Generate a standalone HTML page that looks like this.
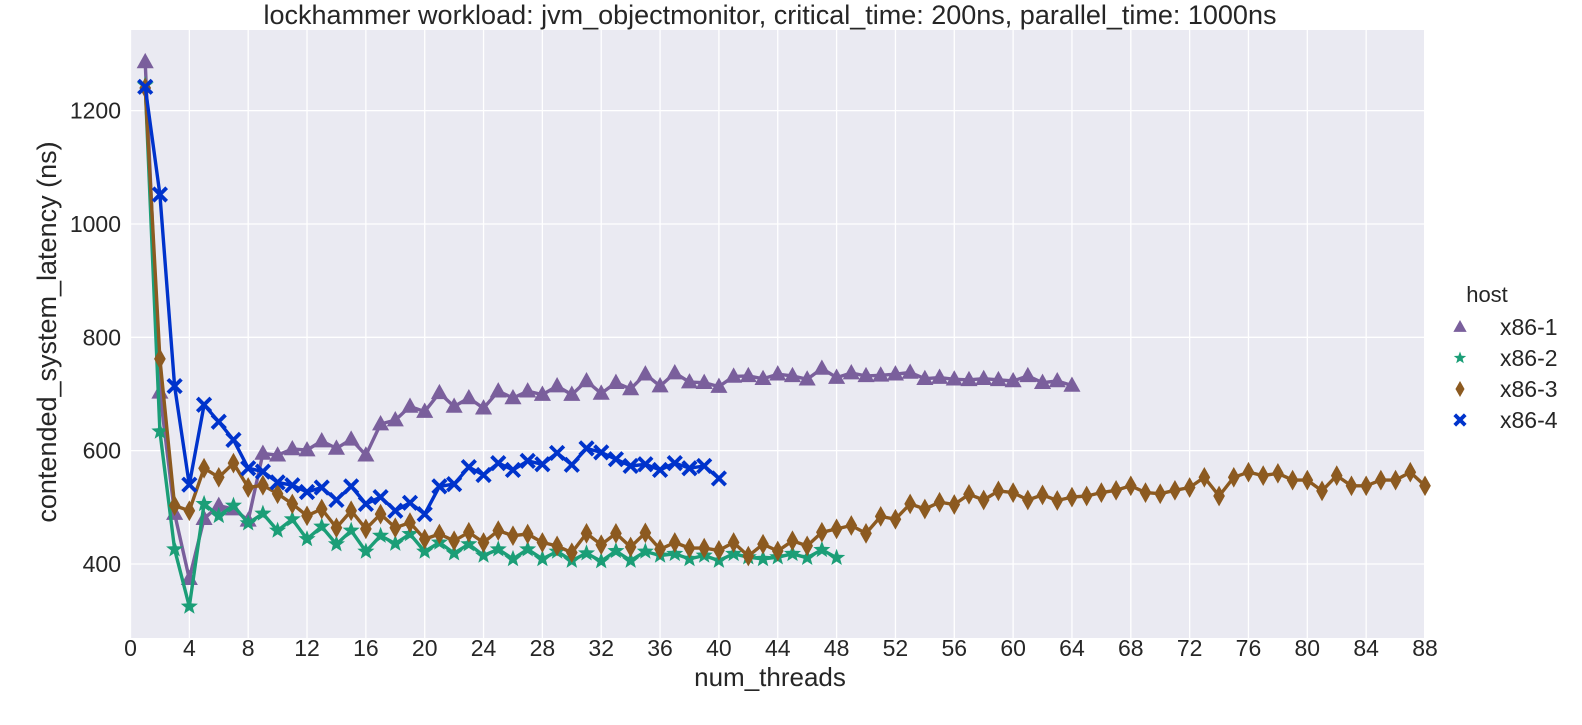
<!DOCTYPE html>
<html><head><meta charset="utf-8">
<style>
body{margin:0;background:#fff;}
svg text{font-family:"Liberation Sans","DejaVu Sans",sans-serif;fill:#262626;}
</style></head>
<body>
<svg id="chart" width="1582" height="720" xmlns="http://www.w3.org/2000/svg">
<rect x="131" y="30" width="1293" height="608" fill="#eaeaf2"/>
<g id="grid"></g>
<g id="series"></g>
<g id="xticks"></g>
<g id="yticks"></g>
<text x="770" y="24" font-size="27" text-anchor="middle">lockhammer workload: jvm_objectmonitor, critical_time: 200ns, parallel_time: 1000ns</text>
<text x="770" y="686" font-size="26" text-anchor="middle">num_threads</text>
<text transform="translate(56,332) rotate(-90)" font-size="27" text-anchor="middle">contended_system_latency (ns)</text>
<g id="legend">
<text x="1487" y="302" font-size="22" text-anchor="middle">host</text>
</g>
</svg>
<script>
const hosts = ["x86-1","x86-2","x86-3","x86-4"];
const colors = ["#7a5f9c","#1b9e77","#8c5a20","#0033cc"];
const s1 = [1286,703,489,374,480,503,497,477,595,592,603,601,617,604,620,592,647,654,678,669,702,678,693,675,705,693,705,699,714,699,723,701,720,709,735,714,737,721,720,713,731,732,727,735,732,726,745,729,737,732,733,735,738,727,729,726,725,727,725,723,732,720,723,715];
const s2 = [1245,634,426,325,506,485,503,472,489,459,479,444,466,435,459,422,450,436,453,422,438,419,435,415,426,409,426,409,422,406,419,405,423,406,422,415,418,409,415,406,418,412,409,412,418,411,425,411];
const s3 = [1240,762,503,494,569,553,578,535,539,524,506,485,497,464,494,462,488,464,473,444,453,441,456,438,459,450,453,438,432,420,454,434,454,430,455,426,438,428,428,424,438,414,435,423,441,432,456,462,468,454,484,479,506,497,509,505,523,513,529,526,513,522,512,518,520,526,530,538,526,524,530,535,553,520,553,562,556,560,548,548,529,556,538,538,548,548,562,538];
const s4 = [1242,1052,714,540,681,651,619,569,563,544,539,527,535,513,537,506,518,494,508,488,537,541,571,557,578,566,582,576,596,575,604,597,585,573,576,566,578,569,573,551];
const xTickLabels = [0,4,8,12,16,20,24,28,32,36,40,44,48,52,56,60,64,68,72,76,80,84,88];
const yTickLabels = [400,600,800,1000,1200];
const seriesList = [s1,s2,s3,s4];

const NS="http://www.w3.org/2000/svg";
const X0=130.5, XPU=(1425-130.5)/88;
const Y400=564, YPU=0.5667;
function xs(v){return X0+v*XPU;}
function ys(v){return Y400-(v-400)*YPU;}
function mk(tag,attrs,parent){const e=document.createElementNS(NS,tag);for(const k in attrs)e.setAttribute(k,attrs[k]);parent.appendChild(e);return e;}
const grid=document.getElementById('grid'), xt=document.getElementById('xticks'), yt=document.getElementById('yticks');
xTickLabels.forEach(v=>{
  const l=mk('line',{x1:xs(v),x2:xs(v),y1:30,y2:638,stroke:'#fff','stroke-width':1.3},grid);
  
  
  const t=mk('text',{x:xs(v),y:656,'font-size':23,'text-anchor':'middle'},xt);
  t.textContent=v;
  
  
});
yTickLabels.forEach(v=>{
  const l=mk('line',{x1:131,x2:1424,y1:ys(v),y2:ys(v),stroke:'#fff','stroke-width':1.3},grid);
  
  
  const t=mk('text',{x:121,y:ys(v)+8,'font-size':23,'text-anchor':'end'},yt);
  t.textContent=v;
  
  
});
function marker(kind,cx,cy,color,parent,sz){
  let e;
  if(kind===0){e=mk('polygon',{points:`${cx},${cy-sz} ${cx-sz*0.95},${cy+sz*0.7} ${cx+sz*0.95},${cy+sz*0.7}`,fill:color},parent);}
  else if(kind===1){let p=[];for(let i=0;i<10;i++){const r=i%2?sz*0.42:sz;const a=-Math.PI/2+i*Math.PI/5;p.push((cx+r*Math.cos(a)).toFixed(1)+','+(cy+r*Math.sin(a)).toFixed(1));}e=mk('polygon',{points:p.join(' '),fill:color},parent);}
  else if(kind===2){e=mk('polygon',{points:`${cx},${cy-sz*1.15} ${cx-sz*0.65},${cy} ${cx},${cy+sz*1.15} ${cx+sz*0.65},${cy}`,fill:color},parent);}
  else {e=mk('path',{d:`M${cx-sz*0.75},${cy-sz*0.75}L${cx+sz*0.75},${cy+sz*0.75}M${cx-sz*0.75},${cy+sz*0.75}L${cx+sz*0.75},${cy-sz*0.75}`,stroke:color,'stroke-width':3.8,fill:'none'},parent);}
  return e;
}
const sg=document.getElementById('series');
seriesList.forEach((arr,si)=>{
  const g=mk('g',{},sg);
  
  
  const pts=arr.map((v,i)=>xs(i+1).toFixed(1)+','+ys(v).toFixed(1)).join(' ');
  const pl=mk('polyline',{points:pts,fill:'none',stroke:colors[si],'stroke-width':3.4,'stroke-linejoin':'round'},g);
  
  
  arr.forEach((v,i)=>{
    const m=marker(si,xs(i+1),ys(v),colors[si],g,9);
    
    
  });
});
const lg=document.getElementById('legend');
hosts.forEach((h,i)=>{
  const y=327+i*31;
  const m=marker(i,1460,y,colors[i],lg,i===1?6.5:7);
  
  
  const t=mk('text',{x:1500,y:y+8,'font-size':23},lg);
  t.textContent=h;
  
  
});
</script>
</body></html>
